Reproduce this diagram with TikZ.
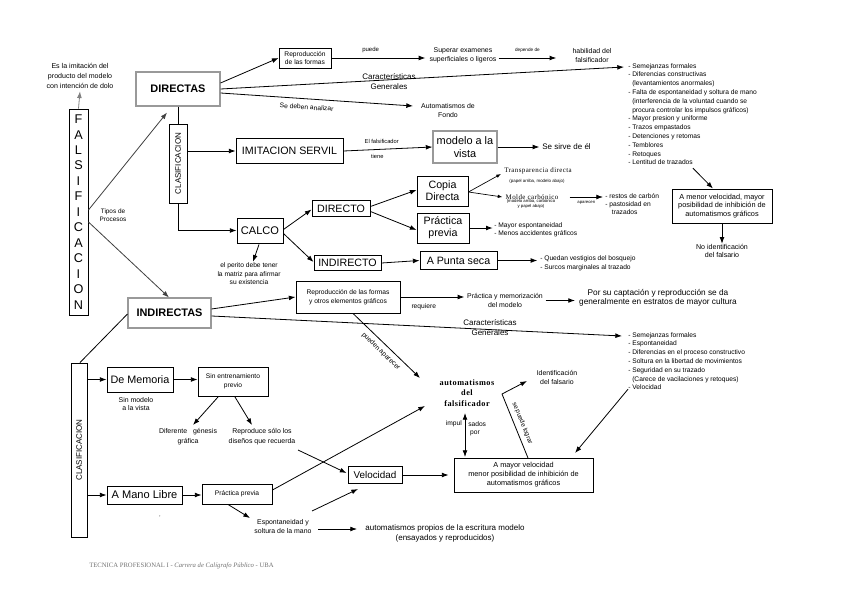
\documentclass[tikz,border=0pt]{standalone}
\usepackage{fontspec}
\usepackage{graphicx}
\setmainfont{Liberation Sans}
\newfontfamily\serifsp[LetterSpace=6]{Liberation Serif}
\newfontfamily\serifpl{Liberation Serif}
\usetikzlibrary{arrows.meta,calc}
\newcommand\fsz[2]{\fontsize{#1}{#2}\selectfont}
\begin{document}
\begin{tikzpicture}[x=0.75pt,y=-0.75pt,
  arr/.style={-{Latex[length=5pt,width=3.6pt]}, line width=0.6pt},
  arrs/.style={-{Latex[length=3.5pt,width=2.6pt]}, line width=0.5pt},
  ln/.style={line width=0.6pt},
  bx/.style={draw, line width=0.7pt, inner sep=0pt, align=center},
  gbx/.style={draw=black!40, line width=0.8pt, inner sep=0pt, align=center},
  t/.style={inner sep=0pt, align=center},
  tl/.style={inner sep=0pt, align=left}]
\fill[white] (0,0) rectangle (848,599);
\useasboundingbox (0,0) rectangle (848,599);

% ---------- left column ----------
\node[bx, minimum width=14.25pt, minimum height=154.5pt, font=\fsz{9.5}{11.6}] (fals) at (78.5,212)
  {F\\A\\L\\S\\I\\F\\I\\C\\A\\C\\I\\O\\N};
\node[t, font=\fsz{5.3}{7.8}] (esla) at (80,76) {Es la imitación del\\producto del modelo\\con intención de dolo};
\draw[arr, draw=black!50] (fals.north) -- ($(esla.south)+(0,2)$);

\node[gbx, minimum width=63pt, minimum height=25.5pt, font=\fsz{8.2}{10}\bfseries] (dir) at (178,89) {DIRECTAS};
\node[gbx, minimum width=62.25pt, minimum height=22.5pt, font=\fsz{8.2}{10}\bfseries] (indir) at (169.5,313) {INDIRECTAS};
\node[t, font=\fsz{4.8}{6}] (tipos) at (113,215) {Tipos de\\Procesos};
\draw[arr, draw=black!75] ($(fals.east)+(0,-2)$) -- ($(dir.south)+(-11,6)$);
\draw[arr, draw=black!75] ($(fals.east)+(0,10)$) -- ($(indir.north)+(-0.5,0)$);

% ---------- DIRECTAS branch ----------
\node[bx, minimum width=13.5pt, minimum height=59.25pt] (clas1) at (178,163.5) {\rotatebox{90}{\fsz{6}{7}CLASIFICACION}};
\draw[ln] (dir.south) -- (clas1.north);

\node[bx, minimum width=80.25pt, minimum height=18.75pt, font=\fsz{8}{10}] (imit) at (289.5,151) {IMITACION SERVIL};
\draw[arr] (clas1.east |- imit.west) -- (imit.west);

\node[bx, minimum width=34.5pt, minimum height=18.75pt, font=\fsz{8.3}{10}] (calco) at (260,230.5) {CALCO};
\draw[arr] (clas1.south) |- (calco.west);

\node[t, font=\fsz{5}{6.4}] (perito) at (249,274) {el perito debe tener\\la matriz para afirmar\\su existencia};
\draw[arr] ($(calco.south)+(-1,1)$) -- ($(perito.north)+(4,-1)$);

\node[bx, minimum width=43.5pt, minimum height=12pt, font=\fsz{8}{10}] (directo) at (341,208.5) {DIRECTO};
\node[bx, minimum width=50.25pt, minimum height=11.25pt, font=\fsz{8}{10}] (indirecto) at (347.5,263) {INDIRECTO};
\draw[arr] ($(calco.east)+(0,-1)$) -- ($(directo.west)+(0,1)$);
\draw[arr] ($(calco.east)+(0,3)$) -- ($(indirecto.west)+(0,-1)$);

\node[gbx, minimum width=48pt, minimum height=24pt, font=\fsz{8.2}{10}] (modelo) at (465,147) {modelo a la\\vista};
\draw[arr] (imit.east) -- (modelo.west)
  node[pos=0.43, above=0.3pt, font=\fsz{4.3}{5}] {El falsificador}
  node[pos=0.38, below=0.3pt, font=\fsz{4.3}{5}] {tiene};
\node[t, font=\fsz{6}{7}, anchor=west] (sesirve) at (542,147) {Se sirve de él};
\draw[arr, shorten >=2pt] (modelo.east) -- (sesirve.west);

% top row
\node[bx, minimum width=39pt, minimum height=15pt, font=\fsz{5}{6.6}] (repro) at (305,58) {Reproducción\\de las formas};
\draw[arr] ($(dir.east)+(0,-6)$) -- (repro.west);
\node[t, font=\fsz{5.2}{6.8}] (superar) at (463,55.5) {Superar examenes\\superficiales o ligeros};
\draw[arr, shorten >=3pt] (repro.east) -- (superar.west |- repro.east)
  node[pos=0.4, above=0.5pt, font=\fsz{4.5}{5}] {puede};
\node[t, font=\fsz{5.2}{6.8}] (habil) at (592,55.5) {habilidad del\\falsificador};
\draw[arr] ($(superar.east)+(2,2.5)$) -- ($(habil.west)+(-16,2.5)$)
  node[midway, above=0.8pt, font=\fsz{3.5}{4}] {depende de};

\node[tl, anchor=north west, font=\fsz{5}{6.6}] (list1) at (628,63) {%
- Semejanzas formales\\
- Diferencias constructivas\\
\hspace*{3pt}(levantamientos anormales)\\
- Falta de espontaneidad y soltura de mano\\
\hspace*{3pt}(interferencia de la voluntad cuando se\\
\hspace*{3pt}procura controlar los impulsos gráficos)\\
- Mayor presion y uniforme\\
- Trazos empastados\\
- Detenciones y retomas\\
- Temblores\\
- Retoques\\
- Lentitud de trazados};
\draw[arr] (dir.east) -- ($(list1.north west)+(-4,4)$);
\node[t, font=\fsz{6}{7.5}] (carac1) at (389,81.5) {Características\\Generales};

\node[t, font=\fsz{5.2}{6.8}] (autofondo) at (448,110.5) {Automatismos de\\Fondo};
\draw[arr] ($(dir.east)+(0,4)$) -- ($(autofondo)+(-35,-4.5)$)
  node[pos=0.45, below=0.8pt, sloped, font=\fsz{5}{6}] {Se deben analizar};

\node[bx, minimum width=75pt, minimum height=25.5pt, font=\fsz{5.5}{6.3}] (amenor) at (722,206)
  {A menor velocidad, mayor\\posibilidad de inhibición de\\automatismos gráficos};
\draw[arr] ($(list1.south west)+(65,3)$) -- ($(amenor.north)+(-9,0)$);
\node[t, font=\fsz{5.3}{6.5}] (noident) at (722,251) {No identificación\\del falsario};
\draw[arr] (amenor.south) -- (noident.north);

% calco sub-branches
\node[bx, minimum width=38.25pt, minimum height=22.5pt, font=\fsz{8}{9}] (copia) at (442.5,191) {Copia\\Directa};
\node[bx, minimum width=39pt, minimum height=22.5pt, font=\fsz{8}{9}] (practica) at (443,228) {Práctica\\previa};
\node[bx, minimum width=57.75pt, minimum height=13pt, font=\fsz{8}{9}] (punta) at (458.5,260.5) {A Punta seca};
\draw[arr] ($(directo.east)+(0,-2)$) -- ($(copia.west)+(0,-1)$);
\draw[arr] ($(directo.east)+(0,3)$) -- ($(practica.west)+(0,2)$);
\draw[arr] (indirecto.east) -- (punta.west);

\node[t, font=\serifsp\fsz{5.2}{6}] (transp) at (538,171) {Transparencia directa};
\node[t, font=\fsz{3.3}{4}] (transpsub) at (537,181) {(papel arriba, modelo abajo)};
\node[t, font=\serifsp\fsz{5.2}{6}] (molde) at (532,197) {Molde carbónico};
\node[t, font=\fsz{3.2}{4.2}] (moldesub) at (531,204) {(modelo arriba, carbónico\\y papel abajo)};
\draw[arrs] ($(copia.east)+(0,1)$) -- ($(transp.west)+(-3,3)$);
\draw[arrs] ($(copia.east)+(0,1)$) -- ($(molde.west)+(-3,0)$);

\node[tl, anchor=north west, font=\fsz{5}{6}] (restos) at (605,193.5) {- restos de carbón\\- pastosidad en\\\hspace*{5pt}trazados};
\draw[arr] ($(molde.east)+(11,0)$) -- ($(restos.north west)+(-2,3.5)$)
  node[midway, below=-0.5pt, font=\fsz{3.2}{4}] {aparecen};

\node[tl, anchor=west, font=\fsz{5}{6}] (mayor) at (494,230) {- Mayor espontaneidad\\- Menos accidentes gráficos};
\draw[arr, shorten >=1pt] (practica.east) -- (practica.east -| mayor.west);
\node[tl, anchor=west, font=\fsz{5}{6.6}] (quedan) at (540,263.5) {- Quedan vestigios del bosquejo\\- Surcos marginales al trazado};
\draw[arr, shorten >=2pt] (punta.east) -- (punta.east -| quedan.west);

% ---------- INDIRECTAS branch ----------
\node[bx, minimum width=78pt, minimum height=24pt, font=\fsz{5}{7}] (repro2) at (348,297) {Reproducción de las formas\\y otros elementos gráficos};
\draw[arr] ($(indir.east)+(0,-4)$) -- (repro2.west);
\node[t, font=\fsz{5.2}{6.8}] (practmem) at (505,300.5) {Práctica y memorización\\del modelo};
\draw[arr, shorten >=2pt] (repro2.east) -- (practmem.west |- repro2.east)
  node[pos=0.35, below=1pt, font=\fsz{5}{6}] {requiere};
\node[t, font=\fsz{6.2}{7}] (porsu) at (658,298) {Por su captación y reproducción se da\\generalmente en estratos de mayor cultura};
\draw[arr, shorten <=2pt, shorten >=3pt] (practmem.east) -- (porsu.west |- practmem.east);

\node[tl, anchor=north west, font=\fsz{5}{6.6}] (list2) at (628,332) {%
- Semejanzas formales\\
- Espontaneidad\\
- Diferencias en el proceso constructivo\\
- Soltura en la libertad de movimientos\\
- Seguridad en su trazado\\
\hspace*{3pt}(Carece de vacilaciones y retoques)\\
- Velocidad};
\draw[arr] ($(indir.east)+(0,3)$) -- ($(list2.north west)+(-6,4)$);
\node[t, font=\fsz{6}{7.5}] (carac2) at (490,328) {Características\\Generales};

\node[t, font=\serifsp\bfseries\fsz{6.2}{7.9}] (autof) at (467,393) {automatismos\\del\\falsificador};
\draw[arr] ($(repro2.south)+(5,0)$) -- ($(autof)+(-47,-15)$)
  node[midway, sloped, below=0pt, font=\fsz{5}{6}] {pueden aparecer};

\node[bx, minimum width=104.25pt, minimum height=25.5pt, font=\fsz{5.5}{6.75}] (amayor) at (523.5,475)
  {A mayor velocidad\\menor posibilidad de inhibición de\\automatismos gráficos};
\draw[{Latex[length=5pt,width=3.6pt]}-{Latex[length=5pt,width=3.6pt]}, line width=0.6pt]
  ($(autof)+(-2,20)$) -- ($(amayor)+(-58.5,-18)$);
\node[t, anchor=east, font=\fsz{5}{6}] (impul) at (462,424) {impul};
\node[t, anchor=west, font=\fsz{5}{6}] (sados) at (468,424) {sados};
\node[t, font=\fsz{5}{6}] (por) at (475,433) {por};

\node[t, font=\fsz{5.2}{6.8}] (ident) at (557,377.5) {Identificación\\del falsario};
\draw[arr] ($(amayor)+(4.5,-17)$) --
  node[sloped, above=0pt, font=\fsz{4.8}{5.5}] {se puede lograr}
  ($(amayor)+(-21.5,-81)$) -- ($(ident)+(-30,3.5)$);
\draw[arr] ($(list2.south west)+(0,-1)$) -- ($(amayor)+(51.5,-22)$);

\node[bx, minimum width=40.5pt, minimum height=12.5pt, font=\fsz{7.4}{9}] (veloc) at (375,475) {Velocidad};
\draw[arr] (veloc.east) -- ($(amayor.west)+(-5,0)$);

\node[bx, minimum width=12pt, minimum height=130.5pt] (clas2) at (79,450) {\rotatebox{90}{\fsz{6}{7}CLASIFICACION}};
\draw[ln] ($(indir.west)+(0,1)$) -- ($(clas2.north)+(1,0)$);

\node[bx, minimum width=49.5pt, minimum height=18.75pt, font=\fsz{8.1}{10}] (dememo) at (140,379.5) {De Memoria};
\draw[arr] (clas2.east |- dememo.west) -- (dememo.west);
\node[t, font=\fsz{5.2}{6}] (sinmod) at (136,404) {Sin modelo\\a la vista};
\node[bx, minimum width=52.5pt, minimum height=21.75pt, font=\fsz{5}{6.8}] (sinent) at (233,381.5) {Sin entrenamiento\\previo};
\draw[arr] (dememo.east) -- (sinent.west |- dememo.east);
\node[t, font=\fsz{5.2}{7.5}] (difer) at (188,437) {Diferente\hspace{3pt} génesis\\gráfica};
\node[t, font=\fsz{5.2}{7.5}] (reprod) at (262,437) {Reproduce sólo los\\diseños que recuerda};
\draw[arr] ($(sinent)+(-15,15.5)$) -- ($(difer)+(5,-12)$);
\draw[arr] ($(sinent)+(2,15.5)$) -- ($(reprod)+(-10,-12)$);
\draw[arr] ($(reprod)+(36,13)$) -- ($(veloc.west)+(-1,-2)$);

\node[bx, minimum width=56.25pt, minimum height=13.5pt, font=\fsz{8.3}{10}] (manol) at (144.5,495) {A Mano Libre};
\draw[arr] (clas2.east |- manol.west) -- (manol.west);
\node[bx, minimum width=52.5pt, minimum height=15pt, font=\fsz{5}{6}] (pract2) at (237,494) {Práctica previa};
\draw[arr] (manol.east) -- (pract2.west |- manol.east);
\draw[arr] ($(pract2.east)+(0,-4)$) -- ($(autof)+(-42,13)$);
\node[t, font=\fsz{5.2}{6.8}] (espont) at (283,526.5) {Espontaneidad y\\soltura de la mano};
\draw[arr] ($(pract2.south)+(-9,0)$) -- ($(espont)+(-33,-8.5)$);
\draw[arr] ($(espont)+(29,-15.5)$) -- ($(veloc)+(-17,14)$);
\node[t, font=\fsz{6}{7.5}] (autoprop) at (445,533.5) {automatismos propios de la escritura modelo\\(ensayados y reproducidos)};
\draw[arr] ($(espont)+(35,2.5)$) -- ($(autoprop)+(-88,-4.5)$);

\node[t, font=\fsz{4}{4}] (mark) at (160,518) {'};
\node[t, anchor=west, text=black!55, font=\serifpl\fsz{5}{6}] (footer) at (89,566)
  {TECNICA PROFESIONAL I - {\itshape Carrera de Calígrafo Público} - UBA};
\end{tikzpicture}
\end{document}
